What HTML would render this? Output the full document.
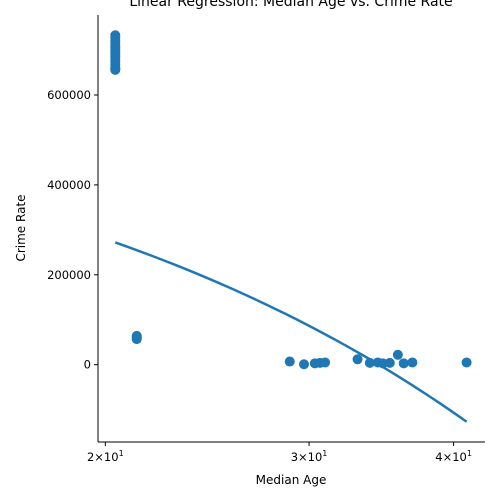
<!DOCTYPE html>
<html><head><meta charset="utf-8"><style>
body{margin:0;background:#fff;}
svg{display:block;font-family:"DejaVu Sans","Liberation Sans",sans-serif;}
</style></head><body>
<svg id="chart" width="500" height="500"></svg>
<script>
const ages=[20.4,20.4,20.4,20.4,20.4,20.4,20.4,20.4,20.4,20.4,20.4,20.4,20.4,20.4,20.4,20.4,21.29,21.29,21.29,21.29,28.87,29.7,30.35,30.66,30.97,33.04,33.86,34.4,34.75,35.23,35.8,36.22,36.85,41.05];
const crimes=[733000,728000,722000,716000,710000,705000,700000,695000,690000,685000,680000,674000,668000,662000,658000,656000,57000,60000,62000,64000,7000,1000,3000,4000,5000,12000,4000,5000,3000,4000,22000,3000,5000,5000];
const lineX=[20.4,41.05];
const lineIntercept=272000;
const lineSlope=-19322;
const yTicks=[0,200000,400000,600000];
const yTickLabels=["0","200000","400000","600000"];
const xTicks=[20,30,40];
const xTickLabels=["2","3","4"];

const L=98,R=485,T=15,B=442;
const xMin=Math.log10(19.71),xMax=Math.log10(42.58);
const yMin=-172000,yMax=778000;
const sx=v=>L+(Math.log10(v)-xMin)/(xMax-xMin)*(R-L);
const sy=v=>B-(v-yMin)/(yMax-yMin)*(B-T);
const svg=document.getElementById('chart');
const NS='http://www.w3.org/2000/svg';
function mk(tag,attrs,parent){const e=document.createElementNS(NS,tag);for(const k in attrs)e.setAttribute(k,attrs[k]);(parent||svg).appendChild(e);return e;}

const title=mk('text',{x:291,y:6,'text-anchor':'middle','font-size':14});


title.textContent='Linear Regression: Median Age vs. Crime Rate';

const pts=mk('g',{fill:'#1f77b4'});


ages.forEach((a,i)=>{
  const c=mk('circle',{cx:sx(a),cy:sy(crimes[i]),r:5},pts);
  
  
});

let d='';
for(let k=0;k<=40;k++){const x=lineX[0]+(lineX[1]-lineX[0])*k/40;const y=lineIntercept+lineSlope*(x-lineX[0]);d+=(k?'L':'M')+sx(x).toFixed(2)+','+sy(y).toFixed(2);}
const line=mk('path',{d:d,stroke:'#1f77b4','stroke-width':2.5,fill:'none'});



const ya=mk('line',{x1:L,y1:T,x2:L,y2:B,stroke:'#000','stroke-width':1});


const xa=mk('line',{x1:L,y1:B,x2:R,y2:B,stroke:'#000','stroke-width':1});



yTicks.forEach((v,i)=>{
  const y=sy(v);
  const t=mk('line',{x1:L-4,y1:y,x2:L,y2:y,stroke:'#000'});
  
  
  const lb=mk('text',{x:L-7,y:y+4,'text-anchor':'end','font-size':11.5});
  
  
  lb.textContent=yTickLabels[i];
});
xTicks.forEach((v,i)=>{
  const x=sx(v);
  const t=mk('line',{x1:x,y1:B,x2:x,y2:B+4,stroke:'#000'});
  
  
  const lb=mk('text',{x:x,y:B+19,'text-anchor':'middle','font-size':11.5});
  
  
  lb.textContent=xTickLabels[i]+'\u00d710';
  const sup=mk('tspan',{dy:-5,'font-size':8},lb);
  sup.textContent='1';
});

const xl=mk('text',{x:291,y:484,'text-anchor':'middle','font-size':12});


xl.textContent='Median Age';
const yl=mk('text',{x:0,y:0,'text-anchor':'middle','font-size':12,transform:'translate(25,228) rotate(-90)'});


yl.textContent='Crime Rate';
</script>
</body></html>
